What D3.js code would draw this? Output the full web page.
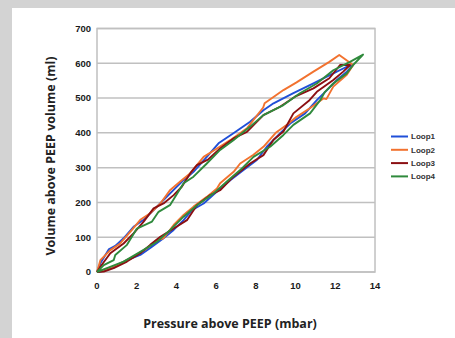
<!DOCTYPE html>
<html>
<head>
<meta charset="utf-8">
<script src="https://cdn.jsdelivr.net/npm/d3@7"></script>
<style>
  html, body { margin: 0; padding: 0; background: #d3d3d3; }
  svg { display: block; }
</style>
</head>
<body>
<svg id="chart" width="455" height="338"></svg>
<script>
// Pressure (mbar) / volume (ml) points, inflation limb then deflation limb
const loop1P = [0, 0.17, 0.84, 1.51, 2.18, 2.77, 3.35, 3.86, 4.36, 4.78, 5.37, 6.04, 6.71, 7.38, 8.05, 8.55, 9.14, 9.73, 10.48, 11.07, 11.58, 12.08, 12.58, 12.9,
  12.58, 11.9, 10.9, 9.89, 8.89, 8.38, 7.71, 6.87, 6.12, 5.53, 4.86, 4.36, 3.86, 3.35, 2.85, 2.35, 1.84, 1.34, 0.92, 0.59, 0.17, 0];
const loop1V = [0, 1, 15, 34, 49, 73, 97, 121, 149, 178, 197, 231, 264, 293, 322, 360, 394, 427, 456, 494, 523, 552, 576, 595,
  590, 571, 542, 514, 485, 465, 432, 399, 370, 331, 288, 264, 236, 207, 178, 150, 130, 97, 75, 65, 25, 0];

const loop2P = [0, 0.34, 1.01, 1.84, 2.51, 3.02, 3.35, 3.86, 4.36, 4.86, 5.53, 6.04, 6.2, 6.88, 7.21, 7.88, 8.38, 9.0, 9.6, 10.05, 10.7, 11.4, 11.55, 11.9, 12.58, 12.9,
  12.2, 11.7, 10.9, 10.05, 9.39, 8.44, 8.37, 7.55, 6.71, 6.04, 5.37, 4.7, 4.19, 3.69, 3.19, 2.68, 2.18, 1.76, 1.17, 0.67, 0.17, 0];
const loop2V = [0, 6, 20, 44, 68, 92, 97, 135, 164, 188, 216, 240, 255, 288, 312, 337, 360, 400, 425, 446, 470, 499, 497, 533, 567, 595,
  624, 604, 576, 545, 523, 485, 473, 413, 379, 355, 331, 284, 260, 236, 197, 169, 150, 121, 82, 63, 34, 0];

const loop3P = [0, 0.34, 0.84, 1.51, 2.18, 2.68, 3.19, 3.86, 4.53, 5.03, 5.7, 6.2, 6.87, 7.71, 8.38, 8.89, 9.39, 9.89, 10.7, 11.07, 11.9, 12.4, 12.74,
  12.24, 11.7, 10.9, 9.97, 9.22, 8.38, 7.55, 6.87, 6.2, 5.61, 5.03, 4.7, 4.27, 3.86, 3.35, 2.85, 2.35, 1.84, 1.34, 0.67, 0.17, 0];
const loop3V = [0, 1, 11, 30, 54, 78, 101, 125, 149, 192, 221, 235, 274, 312, 336, 380, 404, 456, 494, 518, 552, 576, 595,
  595, 557, 528, 504, 475, 451, 403, 384, 355, 324, 307, 284, 245, 221, 197, 183, 145, 111, 82, 54, 15, 0];

const loop4P = [0, 0.5, 1.34, 2.18, 3.02, 3.69, 4.36, 5.03, 5.87, 6.54, 7.21, 7.88, 8.72, 9.39, 9.89, 10.73, 11.24, 11.48, 11.9, 12.58, 12.9, 13.4,
  12.74, 11.9, 11.07, 10.22, 9.39, 8.38, 7.71, 6.87, 6.2, 5.53, 4.86, 4.36, 3.69, 3.1, 2.77, 2.01, 1.51, 0.92, 0.84, 0.34, 0];
const loop4V = [0, 11, 30, 58, 87, 121, 159, 192, 226, 260, 293, 331, 360, 394, 423, 456, 494, 518, 542, 571, 595, 625,
  604, 580, 542, 514, 480, 451, 418, 379, 351, 312, 274, 255, 193, 173, 145, 125, 78, 49, 34, 20, 0];

const seriesNames = ['Loop1', 'Loop2', 'Loop3', 'Loop4'];
const seriesColors = ['#1f4fd8', '#f2722f', '#8b0f12', '#2f8a3c'];
const xTicks = [0, 2, 4, 6, 8, 10, 12, 14];
const yTicks = [0, 100, 200, 300, 400, 500, 600, 700];

const loops = [
  [loop1P, loop1V], [loop2P, loop2V], [loop3P, loop3V], [loop4P, loop4V]
].map(([p, v], i) => ({ name: seriesNames[i], color: seriesColors[i], pts: p.map((x, j) => [x, v[j]]) }));

const svg = d3.select('#chart');

// white panel on grey page
svg.append('rect').attr('x', 12).attr('y', 8).attr('width', 443).attr('height', 330).attr('fill', '#fff');

const x = d3.scaleLinear().domain([0, 14]).range([97, 375]);
const y = d3.scaleLinear().domain([0, 700]).range([272, 28.5]);
const gridColor = '#c0c0c0';

// gridlines
svg.append('g').selectAll('line').data(yTicks).join('line')
  .attr('x1', x(0)).attr('x2', x(14))
  .attr('y1', d => y(d)).attr('y2', d => y(d))
  .attr('stroke', gridColor).attr('stroke-width', 1.5);

// frame
svg.append('rect')
  .attr('x', x(0)).attr('y', y(700))
  .attr('width', x(14) - x(0)).attr('height', y(0) - y(700))
  .attr('fill', 'none').attr('stroke', gridColor).attr('stroke-width', 1.5);

const tickFont = '"Liberation Sans Narrow", "Liberation Sans", sans-serif';

svg.append('g').selectAll('text').data(yTicks).join('text')
  .attr('x', x(0) - 6).attr('y', d => y(d)).attr('dy', '0.35em')
  .attr('text-anchor', 'end')
  .style('font-family', tickFont).style('font-weight', 'bold').style('font-size', '9.5px').attr('fill', '#1a1a1a')
  .text(d => d);

svg.append('g').selectAll('text').data(xTicks).join('text')
  .attr('x', d => x(d)).attr('y', y(0) + 17)
  .attr('text-anchor', 'middle')
  .style('font-family', tickFont).style('font-weight', 'bold').style('font-size', '9.5px').attr('fill', '#1a1a1a')
  .text(d => d);

// axis titles
svg.append('text')
  .attr('transform', 'translate(55,156) rotate(-90)')
  .attr('text-anchor', 'middle')
  .style('font-family', '"Open Sans", sans-serif').style('font-weight', 'bold').style('font-size', '12.5px').attr('fill', '#222')
  .text('Volume above PEEP volume (ml)');

svg.append('text')
  .attr('x', 230).attr('y', 328)
  .attr('text-anchor', 'middle')
  .style('font-family', '"Open Sans", sans-serif').style('font-weight', 'bold').style('font-size', '12.5px').attr('fill', '#222')
  .text('Pressure above PEEP (mbar)');

// loops
const line = d3.line().x(d => x(d[0])).y(d => y(d[1]));
svg.append('g').selectAll('path').data(loops).join('path')
  .attr('d', d => line(d.pts))
  .attr('fill', 'none')
  .attr('stroke', d => d.color)
  .attr('stroke-width', 1.9)
  .attr('stroke-linejoin', 'round');

// legend
const legend = svg.append('g').selectAll('g').data(loops).join('g')
  .attr('transform', (d, i) => `translate(391,${136.5 + i * 13.3})`);
legend.append('line').attr('x1', 0).attr('x2', 17).attr('stroke', d => d.color).attr('stroke-width', 2);
legend.append('text').attr('x', 20).attr('dy', '0.35em')
  .style('font-family', tickFont).style('font-weight', 'bold').style('font-size', '8px').attr('fill', '#333')
  .text(d => d.name);
</script>
</body>
</html>
